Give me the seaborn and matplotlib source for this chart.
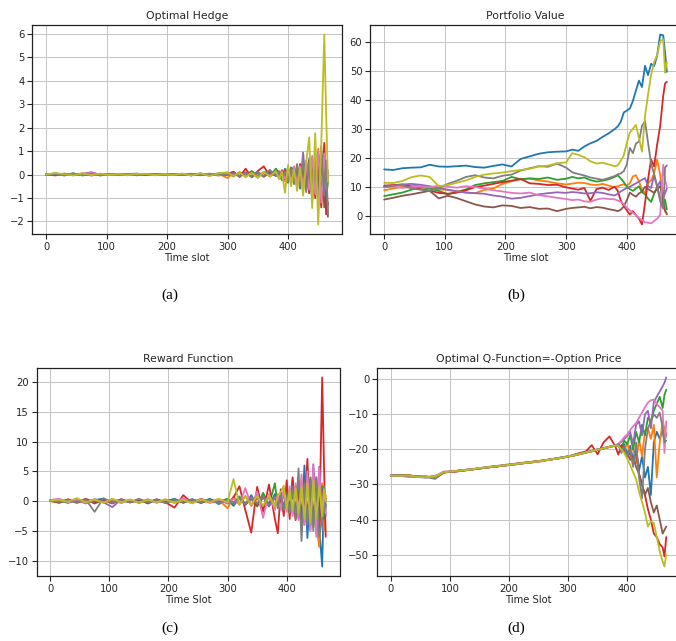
import pandas as pd
import matplotlib.pyplot as plt
import seaborn as sns

# time slots sampled from the curves (coarse early, finer near expiry)
TIME = [0, 15, 30, 45, 60, 75, 90, 105, 120, 135, 150, 165, 180, 195, 210, 225, 240, 255, 270, 285, 300,
        310, 320, 330, 340, 350, 360, 370, 380,
        385, 390, 395, 400, 405, 410, 415, 420, 425, 430, 435, 440, 445, 450, 455, 460, 463, 466]

# one row per simulated path (colour order: blue, orange, green, red, purple, brown, pink, grey, olive)
HEDGE = [
    [0.0, 0.05, -0.03, 0.04, -0.02, 0.03, -0.04, 0.02, 0.01, -0.03, 0.03, -0.02, 0.02, -0.01, 0.02, 0.03, -0.04, 0.05, -0.03, 0.04, 0.06,
     -0.08, 0.1, -0.06, 0.12, -0.1, 0.08, 0.14, -0.05,
     0.1, -0.2, 0.25, -0.35, 0.3, -0.4, 0.2, -0.6, 0.35, -0.3, 0.5, -0.8, 0.6, -1.0, 0.8, -1.2, 0.4, -0.2],
    [0.02, -0.04, 0.03, -0.02, 0.05, -0.03, 0.02, -0.01, 0.03, -0.02, 0.01, 0.02, -0.03, 0.02, -0.01, 0.03, -0.02, 0.04, -0.05, 0.03, -0.15,
     0.08, -0.1, 0.06, -0.08, 0.1, -0.06, 0.05, 0.12,
     -0.15, 0.2, -0.3, 0.15, -0.25, 0.35, -0.45, 0.2, -0.5, 0.6, -0.7, 0.4, -0.9, 1.1, -1.3, 1.3, -1.5, 0.1],
    [-0.03, 0.04, -0.02, 0.05, -0.04, 0.02, -0.03, 0.03, -0.02, 0.02, -0.01, 0.03, -0.02, 0.01, -0.02, 0.02, -0.03, 0.03, -0.02, 0.05, 0.02,
     -0.05, 0.08, -0.04, 0.15, -0.08, 0.1, -0.06, 0.25,
     0.05, -0.25, 0.2, -0.15, 0.3, 0.22, -0.3, 0.25, -0.45, 0.4, -0.6, 0.55, -0.7, 0.5, -0.9, 0.6, -1.1, -0.3],
    [0.03, -0.02, 0.04, -0.03, 0.02, -0.04, 0.03, -0.02, 0.01, 0.03, -0.03, 0.02, -0.01, 0.02, -0.02, 0.01, 0.03, -0.03, 0.02, -0.04, 0.03,
     0.12, -0.1, 0.25, -0.12, 0.15, 0.35, -0.08, 0.1,
     -0.1, 0.15, -0.2, 0.3, -0.35, 0.2, -0.4, 0.45, -0.55, 0.5, -0.8, 0.7, -1.0, 0.9, -1.4, 1.35, -1.7, -1.2],
    [-0.02, 0.03, -0.04, 0.02, 0.03, 0.1, -0.02, 0.03, -0.03, 0.02, 0.04, -0.02, 0.02, -0.03, 0.02, -0.01, 0.03, -0.02, 0.04, -0.03, 0.02,
     0.06, -0.08, 0.1, -0.05, 0.12, -0.1, 0.08, -0.06,
     0.15, -0.2, 0.1, -0.3, 0.25, -0.4, 0.3, -0.5, 0.94, -0.6, 0.7, -0.9, 0.8, -1.1, 0.6, -0.8, 0.3, 0.0],
    [0.01, -0.03, 0.02, -0.02, 0.04, -0.03, 0.02, -0.02, 0.03, -0.01, 0.02, -0.03, 0.01, 0.02, -0.02, 0.03, -0.01, 0.02, -0.03, 0.02, -0.02,
     0.05, -0.06, 0.08, -0.1, 0.06, -0.08, 0.1, -0.05,
     0.08, -0.15, 0.2, -0.25, 0.15, -0.3, 0.35, -0.45, 0.4, -0.65, 0.6, -1.0, 0.9, -0.6, 1.2, -1.4, 0.5, -1.8],
    [0.02, 0.03, -0.02, 0.04, -0.03, 0.08, -0.02, 0.01, -0.02, 0.03, -0.02, 0.02, -0.03, 0.02, -0.01, 0.03, -0.02, 0.02, 0.03, -0.02, 0.03,
     -0.04, 0.07, -0.06, 0.05, -0.1, 0.06, -0.04, 0.08,
     -0.1, 0.12, -0.18, 0.2, -0.28, 0.3, -0.4, 0.35, -0.5, 0.55, -0.65, 0.8, -0.85, 1.0, -1.2, 0.9, -0.6, 0.2],
    [-0.01, 0.02, -0.03, 0.03, -0.02, 0.02, -0.03, 0.02, -0.01, 0.02, -0.03, 0.01, 0.02, -0.02, 0.01, -0.02, 0.03, -0.02, 0.01, 0.03, -0.03,
     0.05, -0.05, 0.07, -0.08, 0.06, -0.06, 0.2, -0.05,
     0.1, -0.18, 0.12, -0.3, 0.2, -0.35, 0.45, -0.5, 0.6, -0.75, 0.5, -1.1, 0.9, -1.3, 1.0, -0.9, 0.6, -1.7],
    [0.0, 0.06, 0.02, -0.04, 0.05, -0.03, 0.04, -0.02, 0.03, -0.03, 0.03, 0.02, -0.02, 0.01, -0.02, 0.04, -0.04, 0.05, -0.06, 0.05, 0.1,
     -0.08, 0.1, -0.12, 0.08, -0.15, 0.12, -0.1, 0.15,
     -0.2, 0.1, -0.78, 0.4, -0.5, 0.2, -0.7, 0.3, -0.9, 0.5, 1.59, -1.43, 1.76, -2.13, 1.3, 5.97, 2.7, -0.3],
]

PORTFOLIO = [
    [16.2, 16.0, 16.6, 16.8, 16.9, 17.8, 17.2, 17.1, 17.3, 17.5, 17.0, 16.8, 17.4, 17.9, 17.2, 19.8, 20.7, 21.6, 22.1, 22.3, 22.4,
     23.0, 22.6, 24.1, 25.2, 26.0, 27.4, 28.6, 30.1,
     31.0, 32.6, 35.8, 36.5, 37.2, 39.8, 43.4, 46.8, 44.6, 51.9, 48.7, 52.6, 51.8, 55.4, 62.7, 62.4, 56.5, 49.8],
    [9.0, 9.6, 10.2, 10.6, 10.4, 9.8, 9.3, 9.1, 8.7, 8.2, 8.0, 9.1, 9.6, 11.2, 12.1, 12.8, 13.0, 12.4, 12.0, 11.4, 11.0,
     11.3, 11.6, 11.5, 11.0, 10.8, 11.2, 10.6, 10.1,
     10.4, 10.8, 11.0, 10.6, 11.4, 13.8, 14.2, 12.1, 9.2, 8.1, 11.6, 12.4, 14.8, 19.6, 14.2, 5.6, 1.8, 0.6],
    [7.0, 7.6, 8.2, 9.2, 10.1, 9.6, 8.8, 7.6, 8.4, 9.3, 10.8, 11.4, 11.8, 12.2, 13.6, 12.8, 13.1, 12.9, 13.4, 12.6, 13.0,
     13.6, 13.1, 13.4, 12.5, 12.0, 12.3, 12.8, 13.6,
     14.2, 13.1, 11.8, 10.2, 9.4, 8.8, 9.6, 10.4, 8.3, 7.6, 6.1, 5.0, 7.8, 10.2, 6.4, 4.2, 5.8, 2.4],
    [10.6, 10.8, 11.0, 10.2, 9.4, 8.9, 8.1, 7.8, 8.2, 9.0, 10.1, 10.6, 11.2, 11.8, 12.3, 12.9, 11.4, 11.2, 10.8, 10.9, 10.0,
     9.6, 9.2, 9.8, 5.4, 9.4, 9.9, 9.1, 10.2,
     8.8, 5.4, 3.6, 2.1, 0.6, 1.8, 0.4, -0.8, -2.8, 4.6, 12.8, 19.6, 17.2, 24.8, 31.2, 41.6, 45.8, 46.4],
    [10.1, 10.6, 11.0, 11.2, 10.9, 10.4, 9.8, 9.2, 8.6, 8.2, 8.0, 7.8, 7.2, 6.8, 6.1, 6.4, 7.0, 7.6, 8.0, 8.3, 8.1,
     8.4, 8.2, 7.9, 8.0, 8.3, 8.1, 7.6, 7.2,
     7.8, 8.6, 9.2, 9.8, 10.2, 10.8, 11.4, 12.0, 12.6, 13.2, 10.4, 9.8, 14.1, 10.2, 12.1, 6.3, 8.0, 9.6],
    [5.8, 6.4, 7.1, 7.6, 8.2, 8.8, 6.2, 7.1, 6.3, 5.2, 4.1, 3.4, 3.1, 3.8, 3.6, 2.9, 3.2, 2.6, 2.7, 1.8, 2.6,
     2.9, 3.1, 3.3, 2.8, 3.2, 3.0, 2.5, 2.1,
     1.8, 2.3, 3.4, 5.6, 8.2, 7.4, 6.8, 7.9, 8.6, 10.2, 9.4, 8.8, 8.1, 9.6, 10.4, 4.8, 2.1, 0.8],
    [10.0, 10.2, 9.8, 10.1, 10.3, 10.0, 10.6, 10.2, 9.9, 10.4, 10.1, 9.6, 9.0, 8.6, 8.1, 7.9, 8.2, 7.3, 6.9, 6.4, 6.0,
     5.6, 5.8, 5.2, 5.0, 5.8, 6.2, 6.0, 5.9,
     5.4, 5.0, 4.2, 3.0, 2.1, 1.2, 0.4, -0.6, -1.2, -2.0, -2.2, -2.4, -1.6, -0.8, 0.6, 17.8, 12.6, 10.2],
    [10.2, 10.6, 10.8, 9.6, 9.2, 8.8, 9.8, 11.2, 12.3, 13.6, 14.2, 13.4, 13.1, 14.0, 14.4, 15.8, 16.6, 17.3, 17.1, 18.2, 16.8,
     15.2, 14.6, 14.1, 13.4, 13.0, 12.6, 13.2, 13.9,
     14.5, 14.8, 15.6, 17.9, 23.6, 21.8, 25.1, 25.8, 31.2, 32.8, 25.4, 18.2, 14.6, 10.3, 5.2, 2.6, 16.8, 17.6],
    [11.6, 11.5, 12.2, 13.5, 14.1, 13.6, 10.4, 10.8, 11.6, 12.4, 13.6, 14.4, 14.8, 15.1, 15.6, 16.0, 16.4, 17.2, 17.5, 18.3, 18.6,
     21.8, 21.2, 20.4, 19.0, 18.2, 18.5, 17.9, 17.3,
     17.6, 19.2, 21.0, 25.4, 28.9, 30.2, 31.5, 27.0, 22.3, 34.6, 42.0, 48.8, 53.2, 55.6, 60.4, 61.0, 49.5, 53.2],
]

REWARD = [
    [0.1, 0.2, -0.2, 0.3, -0.3, 0.2, 0.4, -0.3, 0.2, -0.2, 0.3, -0.4, 0.2, -0.1, 0.4, -0.3, 0.3, -0.2, 0.4, -0.5, 0.3,
     -0.8, 0.6, -0.5, 1.0, -0.7, 0.8, -0.9, 1.2,
     -1.0, 1.5, -1.8, 2.2, -1.5, 3.6, -2.5, 3.0, -3.5, 6.0, -6.2, 2.5, -3.0, 4.0, -4.5, -11.0, 2.0, -1.0],
    [0.0, -0.2, 0.3, -0.2, 0.2, -0.3, 0.2, 0.1, -0.3, 0.2, -0.2, 0.3, -0.2, 0.3, -0.3, 0.4, -0.2, 0.3, -0.3, 0.2, -1.2,
     0.8, -0.6, 0.9, -0.8, 0.5, -1.0, 0.7, -0.6,
     1.0, -1.2, 1.8, -1.5, 2.0, -2.2, 2.6, -3.0, 3.5, -4.0, 4.5, -3.5, 5.0, -4.0, -7.7, 3.0, -5.0, 1.0],
    [0.2, 0.1, -0.3, 0.2, -0.2, 0.3, -0.2, 0.3, -0.1, 0.2, -0.3, 0.2, -0.2, 0.1, 0.3, -0.2, 0.2, -0.3, 0.2, -0.1, 0.4,
     -0.5, 0.8, -0.6, 0.5, -0.9, 1.4, -0.7, 3.0,
     -1.2, 1.0, -1.5, 2.0, -2.0, 1.8, -2.5, 2.8, -3.2, 3.5, -3.0, 4.0, -4.5, 3.0, -3.5, 2.5, -2.0, -0.5],
    [0.1, -0.3, 0.3, -0.2, 0.4, -0.2, 0.2, -0.4, 0.3, -0.2, 0.2, -0.3, 0.3, -0.2, -1.1, 1.0, -0.3, 0.4, -0.2, 0.3, -0.4,
     0.6, 2.5, -1.5, -5.3, 2.4, -1.8, 2.8, -3.0,
     -5.4, 2.0, -2.5, 3.5, -3.0, 4.0, -3.2, 2.2, -4.0, -2.0, 7.1, -4.8, 5.5, -3.0, -5.5, 20.8, 6.3, -6.0],
    [0.0, 0.3, -0.2, 0.2, -0.4, 0.3, -0.2, -1.0, 0.3, -0.2, 0.3, -0.2, 0.2, -0.3, 0.2, -0.2, 0.3, -0.2, 0.2, -0.3, 0.2,
     -0.4, 0.6, -0.5, 0.7, -0.6, 0.9, -0.8, 0.5,
     0.8, -1.2, 1.4, -1.0, 1.8, -2.0, 2.5, -2.8, 3.0, -3.5, 4.0, -4.0, 6.2, -5.5, 5.8, -4.0, 2.5, -2.5],
    [0.1, -0.2, 0.2, -0.3, 0.3, -0.4, 0.2, -0.2, 0.3, -0.2, 0.2, -0.2, 0.3, -0.3, 0.2, -0.2, 0.2, -0.3, 0.3, -0.2, 0.3,
     -0.3, 0.5, -0.6, 0.4, -0.8, 0.6, -0.5, 0.8,
     -0.8, 1.0, -1.2, 1.5, -1.8, 2.0, -2.5, 2.4, -3.0, 3.2, -2.8, 3.6, -4.0, 3.0, -3.5, 2.0, -3.0, -1.0],
    [0.2, 0.4, -0.2, 0.3, -0.3, 0.2, -0.2, 0.3, -0.3, 0.2, -0.2, 0.3, -0.3, 0.2, -0.2, 0.5, -0.2, 0.3, -0.2, 0.2, -0.3,
     0.4, -0.6, 2.2, -0.8, 1.6, -2.8, 1.2, -1.5,
     1.2, -1.5, 2.0, -1.8, 2.5, -2.5, 3.0, -3.2, 4.5, -4.0, 5.0, -5.0, 6.0, -6.0, 5.5, -3.0, 2.0, -2.0],
    [0.0, -0.1, 0.2, -0.2, 0.3, -1.8, 0.5, -0.3, 0.2, -0.2, 0.4, -0.2, 0.2, -0.3, 0.2, -0.1, 0.3, -0.2, 0.2, -0.3, 0.2,
     -0.3, 0.4, -0.5, 0.6, -0.4, 0.7, -0.6, 0.8,
     -1.0, 1.2, -1.5, 1.0, -2.0, 2.5, -3.0, 5.5, -6.7, 3.0, -4.0, 3.5, -5.0, 4.0, -6.0, -3.0, -2.0, 0.5],
    [0.1, 0.2, -0.1, 0.5, -0.2, 0.3, -0.3, 0.4, -0.2, 0.3, -0.3, 0.2, -0.2, 0.3, -0.3, 0.2, -0.4, 0.3, -0.2, 0.4, -0.2,
     3.7, -0.6, 0.8, -0.7, 0.9, -0.8, 1.0, -0.9,
     0.8, 1.5, 2.6, -1.2, 1.8, -1.5, 2.2, -2.0, 2.5, -3.0, 3.0, -3.5, 3.5, -3.0, 2.5, -2.5, 2.0, 0.0],
]

OPTION = [
    [-27.5, -27.3, -27.7, -27.9, -28.0, -27.6, -26.6, -26.2, -26.1, -25.7, -25.5, -25.0, -24.9, -24.4, -24.3, -23.8, -23.6, -23.2, -22.9, -22.4, -22.1,
     -21.6, -21.3, -20.8, -20.5, -20.0, -19.8, -19.2, -18.9,
     -18.9, -20.0, -18.5, -21.5, -19.0, -23.0, -20.0, -26.0, -22.0, -28.0, -25.0, -33.0, -18.0, -15.0, -17.0, -14.5, -18.0, -15.5],
    [-27.4, -27.5, -27.5, -27.7, -27.8, -28.0, -26.4, -26.4, -25.9, -25.8, -25.3, -25.2, -24.7, -24.6, -24.1, -23.9, -23.5, -23.4, -22.8, -22.6, -21.9,
     -21.8, -21.2, -21.0, -20.4, -20.2, -19.6, -19.4, -18.8,
     -18.7, -19.2, -20.5, -18.0, -21.0, -19.5, -24.0, -17.0, -22.0, -15.0, -14.0, -17.0, -13.0, -28.0, -18.0, -12.0, -14.0, -16.0],
    [-27.6, -27.3, -27.4, -27.9, -27.7, -28.3, -26.6, -26.2, -26.0, -25.6, -25.5, -25.1, -24.8, -24.5, -24.2, -23.8, -23.7, -23.2, -23.0, -22.4, -22.0,
     -21.7, -21.4, -20.9, -20.6, -20.0, -19.7, -19.3, -19.0,
     -18.8, -19.5, -17.5, -18.5, -16.0, -20.0, -15.0, -18.0, -13.0, -16.0, -11.0, -12.0, -9.0, -7.0, -5.0, -8.2, -4.5, -3.0],
    [-27.5, -27.6, -27.3, -27.8, -28.0, -27.7, -26.4, -26.5, -26.1, -25.7, -25.4, -25.0, -24.8, -24.6, -24.1, -24.0, -23.5, -23.3, -22.8, -22.5, -22.1,
     -21.5, -21.0, -20.6, -18.8, -21.4, -18.0, -16.3, -19.2,
     -21.5, -18.8, -20.0, -22.0, -21.0, -24.0, -20.0, -27.0, -30.0, -33.0, -37.0, -40.0, -44.0, -45.0, -47.0, -48.0, -50.5, -45.0],
    [-27.3, -27.5, -27.7, -27.6, -27.9, -27.9, -26.5, -26.1, -26.2, -25.8, -25.3, -25.2, -24.7, -24.5, -24.3, -23.9, -23.6, -23.3, -22.9, -22.5, -22.0,
     -21.7, -21.2, -20.9, -20.4, -20.1, -19.6, -19.3, -18.8,
     -18.6, -17.8, -17.0, -16.2, -15.0, -18.5, -13.0, -12.0, -16.0, -10.0, -9.0, -14.0, -6.5, -5.0, -3.5, -2.0, -1.0, 0.5],
    [-27.6, -27.4, -27.5, -27.8, -27.8, -28.1, -26.6, -26.3, -25.9, -25.9, -25.4, -25.1, -24.9, -24.4, -24.2, -23.9, -23.7, -23.3, -22.9, -22.5, -22.0,
     -21.7, -21.3, -20.9, -20.5, -20.1, -19.7, -19.3, -18.9,
     -18.7, -19.5, -20.5, -21.0, -23.0, -22.0, -25.0, -27.0, -30.0, -33.0, -31.0, -35.0, -38.0, -36.0, -40.0, -44.0, -43.0, -42.0],
    [-27.4, -27.6, -27.8, -27.7, -27.8, -27.6, -26.3, -26.4, -26.0, -25.6, -25.5, -25.0, -24.8, -24.5, -24.2, -23.9, -23.6, -23.4, -22.9, -22.5, -22.0,
     -21.6, -21.3, -20.9, -20.5, -20.1, -19.7, -19.3, -18.9,
     -18.4, -17.6, -16.5, -15.8, -14.5, -13.4, -12.5, -11.0, -9.5, -8.0, -6.7, -6.0, -5.8, -7.0, -8.0, -9.0, -21.0, -12.0],
    [-27.5, -27.4, -27.6, -27.8, -27.9, -28.4, -26.5, -26.3, -26.0, -25.8, -25.4, -25.1, -24.8, -24.5, -24.2, -23.9, -23.6, -23.3, -22.9, -22.5, -22.0,
     -21.7, -21.3, -20.9, -20.5, -20.1, -19.7, -19.3, -18.9,
     -18.6, -21.0, -19.0, -22.0, -20.0, -25.0, -18.0, -28.0, -34.0, -20.0, -14.0, -12.0, -10.0, -11.0, -9.5, -14.0, -18.0, -17.5],
    [-27.5, -27.5, -27.4, -27.9, -27.9, -27.8, -26.5, -26.2, -26.0, -25.8, -25.3, -25.1, -24.8, -24.5, -24.2, -23.9, -23.6, -23.3, -22.9, -22.5, -22.0,
     -21.7, -21.3, -20.9, -20.5, -20.1, -19.7, -19.3, -18.9,
     -19.0, -20.0, -21.0, -22.7, -24.5, -26.5, -28.5, -32.0, -35.0, -38.0, -42.0, -40.5, -41.0, -45.0, -49.0, -52.0, -53.4, -50.0],
]

TITLES = ['Optimal Hedge', 'Portfolio Value', 'Reward Function', 'Optimal Q-Function=-Option Price']
XLABELS = ['Time slot', 'Time slot', 'Time Slot', 'Time Slot']
CAPTIONS = ['(a)', '(b)', '(c)', '(d)']

sns.set_theme(style="ticks", rc={
    'axes.grid': True,
    'grid.color': '#c4c4c4',
    'grid.linewidth': 0.7,
    'axes.edgecolor': '#222222',
    'axes.linewidth': 0.9,
    'xtick.major.size': 3.5,
    'ytick.major.size': 3.5,
    'xtick.major.width': 0.8,
    'ytick.major.width': 0.8,
})
plt.rcParams['font.family'] = ['DejaVu Sans']

W, H = 676, 641
fig = plt.figure(figsize=(W / 100, H / 100), dpi=100)

# axes boxes in pixels: left, top, width, height
boxes = [(32, 25, 310, 209), (370, 25, 311, 209), (36.5, 368, 303, 208), (377, 368, 303, 208)]
caption_pos = [(170, 295), (516, 295), (170, 628), (516, 628)]
panels = [HEDGE, PORTFOLIO, REWARD, OPTION]
palette = sns.color_palette('tab10', 9)

for i, paths in enumerate(panels):
    l, t, w, h = boxes[i]
    ax = fig.add_axes([l / W, 1 - (t + h) / H, w / W, h / H])
    rows = []
    for p, vals in enumerate(paths):
        for x, v in zip(TIME, vals):
            rows.append({'t': x, 'path': p, 'value': v})
    df = pd.DataFrame(rows)
    sns.lineplot(data=df, x='t', y='value', hue='path', palette=palette, estimator=None,
                 sort=False, legend=False, linewidth=1.3, ax=ax)
    ax.set_title(TITLES[i], fontsize=7.8, pad=4, color='#262626')
    ax.set_xlabel(XLABELS[i], fontsize=7.2, labelpad=1)
    ax.set_ylabel('')
    ax.tick_params(labelsize=7.2, pad=2)
    ax.set_xticks([0, 100, 200, 300, 400])
    for s in ax.spines.values():
        s.set_visible(True)
    cx, cy = caption_pos[i]
    fig.text(cx / W, 1 - cy / H, CAPTIONS[i], ha='center', va='center',
             fontsize=11, family='Liberation Serif', color='black')

fig.savefig('out.png', dpi=100)
